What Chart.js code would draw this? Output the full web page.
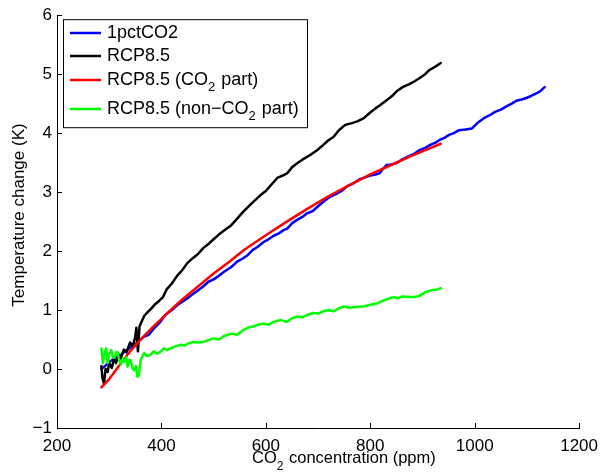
<!DOCTYPE html>
<html><head><meta charset="utf-8">
<script src="https://cdn.jsdelivr.net/npm/chart.js@4/dist/chart.umd.min.js"></script>
<style>html,body{margin:0;padding:0;background:#fff}#wrap{width:606px;height:476px}</style>
</head><body><div id="wrap"><canvas id="c" width="606" height="476"></canvas></div>
<script>
// ---- data ----
const seriesNames = ["1pctCO2", "RCP8.5", "RCP8.5 (CO2 part)", "RCP8.5 (non-CO2 part)"];
const xTicks = [200, 400, 600, 800, 1000, 1200];
const yTicks = [-1, 0, 1, 2, 3, 4, 5, 6];

const ppmBlue = [285,292,300,310,320,330,340,350,360,367,376,386,398,408,420,430,440,450,460,471,480,490,500,510,520,534,545,555,565,575,584,595,605,615,625,633,641,650,660,670,679,690,700,712,723,735,745,756,768,780,790,800,810,818,825,831,840,850,860,872,884,894,905,915,925,932,942,951,960,970,982,995,1005,1017,1028,1039,1050,1060,1071,1080,1090,1100,1108,1117,1124,1134];
const tempBlue = [0.0,0.05,0.12,0.18,0.22,0.30,0.36,0.42,0.50,0.55,0.58,0.69,0.80,0.92,1.00,1.08,1.14,1.20,1.27,1.34,1.40,1.48,1.52,1.58,1.65,1.73,1.82,1.87,1.93,2.02,2.07,2.15,2.20,2.26,2.30,2.35,2.38,2.47,2.53,2.58,2.64,2.68,2.76,2.85,2.92,2.97,3.02,3.10,3.15,3.22,3.25,3.28,3.30,3.32,3.40,3.46,3.47,3.49,3.55,3.60,3.65,3.71,3.75,3.80,3.84,3.88,3.92,3.97,4.00,4.05,4.06,4.08,4.17,4.25,4.30,4.36,4.40,4.45,4.50,4.55,4.57,4.60,4.63,4.67,4.70,4.78];

const ppmBlack = [285,287,290,293,297,300,305,310,313,318,322,328,333,340,345,350,352,355,358,362,367,372,380,388,395,403,410,420,430,440,450,460,470,480,490,500,510,520,534,545,556,566,578,590,600,610,622,632,641,650,660,670,685,698,710,720,730,740,752,765,775,787,800,810,818,830,843,852,862,875,885,894,905,913,925,935];
const tempBlack = [0.05,-0.15,-0.25,0.0,-0.05,0.10,0.02,0.20,0.10,0.25,0.18,0.33,0.28,0.45,0.38,0.55,0.70,0.30,0.72,0.80,0.90,0.95,1.02,1.10,1.15,1.22,1.35,1.45,1.58,1.68,1.80,1.88,1.95,2.05,2.12,2.20,2.28,2.35,2.44,2.55,2.66,2.75,2.85,2.95,3.02,3.12,3.24,3.28,3.32,3.42,3.49,3.55,3.63,3.71,3.80,3.88,3.94,4.05,4.14,4.17,4.20,4.25,4.35,4.42,4.47,4.55,4.64,4.72,4.78,4.83,4.88,4.93,5.00,5.07,5.13,5.19];

const ppmRed = [285,300,320,340,360,380,400,420,440,470,500,530,560,600,640,680,720,760,800,840,880,935];
const tempRed = [-0.31,-0.17,0.07,0.30,0.50,0.68,0.85,1.02,1.18,1.40,1.62,1.82,2.03,2.27,2.50,2.72,2.93,3.12,3.30,3.46,3.62,3.82];

const ppmGreen = [285,288,291,294,297,300,304,307,310,313,316,319,322,326,329,332,335,338,341,345,348,351,354,357,360,364,367,372,379,385,392,398,405,411,417,425,436,445,453,461,470,480,490,500,510,520,534,545,555,565,575,584,595,605,615,629,640,650,660,670,680,690,700,710,720,730,740,749,760,770,787,800,812,825,837,845,852,862,875,885,894,905,919,928,935];
const tempGreen = [0.35,0.10,0.27,0.35,0.10,0.25,0.32,0.20,0.19,0.28,0.29,0.15,0.07,0.18,0.12,0.20,0.04,0.15,0.15,0.00,-0.02,0.05,-0.13,-0.10,0.15,0.22,0.27,0.22,0.24,0.30,0.26,0.29,0.35,0.32,0.35,0.38,0.41,0.40,0.44,0.46,0.45,0.46,0.49,0.52,0.50,0.56,0.60,0.58,0.65,0.70,0.72,0.75,0.77,0.75,0.80,0.83,0.80,0.86,0.89,0.88,0.92,0.95,0.94,0.98,1.00,0.98,1.03,1.06,1.04,1.05,1.06,1.09,1.11,1.16,1.20,1.22,1.20,1.23,1.22,1.22,1.24,1.30,1.34,1.35,1.37];

const seriesColors = ["#0000ff", "#000000", "#ff0000", "#00ff00"];

function pts(xs, ys) { return xs.map((x, i) => ({ x: x, y: ys[i] })); }

const FONT = '"Liberation Sans", Arial, Helvetica, sans-serif';

// text pieces: [text, isSubscript]
const legendTexts = [
  [["1pctCO2", false]],
  [["RCP8.5", false]],
  [["RCP8.5 (CO", false], ["2", true], [" part)", false]],
  [["RCP8.5 (non\u2212CO", false], ["2", true], [" part)", false]]
];
const xTitle = [["CO", false], ["2", true], [" concentration (ppm)", false]];
const yTitle = "Temperature change (K)";

function drawRich(ctx, x, y, parts, size) {
  let cx = x;
  for (const [t, sub] of parts) {
    ctx.font = (sub ? Math.round(size * 0.72) : size) + 'px ' + FONT;
    ctx.fillText(t, cx, sub ? y + size * 0.4 : y);
    cx += ctx.measureText(t).width + (sub ? 1 : 0);
  }
  return cx - x;
}
function richWidth(ctx, parts, size) {
  let w = 0;
  for (const [t, sub] of parts) {
    ctx.font = (sub ? Math.round(size * 0.72) : size) + 'px ' + FONT;
    w += ctx.measureText(t).width + (sub ? 1 : 0);
  }
  return w;
}

const decor = {
  id: 'decor',
  afterDraw(chart) {
    const ctx = chart.ctx, a = chart.chartArea;
    const xs = chart.scales.x, ys = chart.scales.y;
    ctx.save();
    ctx.strokeStyle = '#000'; ctx.lineWidth = 1;
    // inward ticks
    ctx.beginPath();
    for (const v of xTicks) {
      const px = Math.round(xs.getPixelForValue(v)) + 0.5;
      ctx.moveTo(px, a.bottom); ctx.lineTo(px, a.bottom - 5);
    }
    for (const v of yTicks) {
      const py = Math.round(ys.getPixelForValue(v)) + 0.5;
      ctx.moveTo(a.left, py); ctx.lineTo(a.left + 5, py);
    }
    ctx.stroke();

    // legend box
    const lx = a.left + 6, ly = a.top + 4, lw = 244, lh = 108;
    ctx.fillStyle = '#fff';
    ctx.fillRect(lx, ly, lw, lh);
    ctx.strokeRect(lx + 0.5, ly + 0.5, lw, lh);
    const rowY = [33, 56, 80, 109];
    const lsize = 18;
    ctx.textBaseline = 'middle';
    for (let i = 0; i < 4; i++) {
      const yy = rowY[i];
      ctx.strokeStyle = seriesColors[i]; ctx.lineWidth = 2.5;
      ctx.beginPath(); ctx.moveTo(lx + 7, yy); ctx.lineTo(lx + 38, yy); ctx.stroke();
      ctx.fillStyle = '#000';
      drawRich(ctx, lx + 44, yy, legendTexts[i], lsize);
    }

    // x title
    const tsize = 16.5;
    ctx.fillStyle = '#000';
    ctx.textBaseline = 'alphabetic';
    drawRich(ctx, 252, 463, xTitle, tsize);

    // y title
    ctx.save();
    ctx.translate(19, 215);
    ctx.rotate(-Math.PI / 2);
    ctx.font = '17px ' + FONT;
    ctx.textAlign = 'center';
    ctx.textBaseline = 'middle';
    ctx.fillText(yTitle, 0, 0);
    ctx.restore();
    ctx.restore();
  }
};

new Chart(document.getElementById('c'), {
  type: 'line',
  data: {
    datasets: [
      { label: seriesNames[0], data: pts(ppmBlue, tempBlue), borderColor: seriesColors[0], order: 4 },
      { label: seriesNames[1], data: pts(ppmBlack, tempBlack), borderColor: seriesColors[1], order: 3 },
      { label: seriesNames[2], data: pts(ppmRed, tempRed), borderColor: seriesColors[2], order: 2 },
      { label: seriesNames[3], data: pts(ppmGreen, tempGreen), borderColor: seriesColors[3], order: 1 }
    ]
  },
  options: {
    responsive: false,
    animation: false,
    events: [],
    datasets: { line: { borderWidth: 2.5, pointRadius: 0, tension: 0, fill: false, borderJoinStyle: 'round', borderCapStyle: 'round' } },
    layout: { padding: { left: 0, top: 15, right: 21, bottom: 0 } },
    plugins: { legend: { display: false }, tooltip: { enabled: false } },
    scales: {
      x: {
        type: 'linear', min: 200, max: 1200,
        afterBuildTicks(s) { s.ticks = xTicks.map(v => ({ value: v })); },
        afterFit(s) { s.height = 48; },
        grid: { display: false, drawTicks: false },
        border: { display: true, color: '#000', width: 1 },
        ticks: { padding: 8, color: '#000', font: { family: FONT, size: 17 }, maxRotation: 0,
          callback: v => String(v) }
      },
      y: {
        type: 'linear', min: -1, max: 6,
        afterBuildTicks(s) { s.ticks = yTicks.map(v => ({ value: v })); },
        afterFit(s) { s.width = 57; },
        grid: { display: false, drawTicks: false },
        border: { display: true, color: '#000', width: 1 },
        ticks: { padding: 5, color: '#000', font: { family: FONT, size: 17 },
          callback: v => String(v).replace('-', '\u2212') }
      }
    }
  },
  plugins: [decor]
});
</script>
</body></html>
